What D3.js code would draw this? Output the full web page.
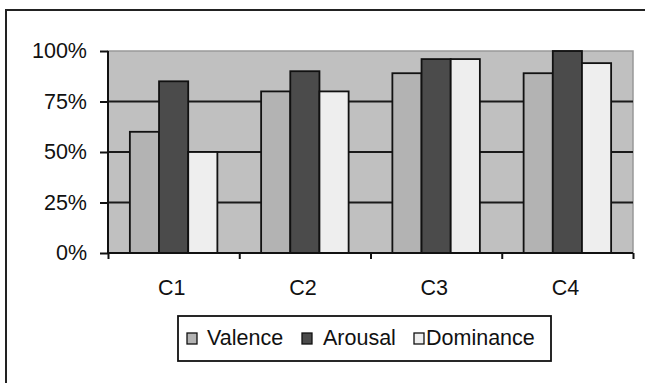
<!DOCTYPE html>
<html><head><meta charset="utf-8">
<script src="https://cdn.jsdelivr.net/npm/d3@7"></script>
<style>
html,body{margin:0;padding:0;background:#fff;}
svg{display:block;}
text{font-family:"Liberation Sans",Arial,sans-serif;fill:#111;}
</style></head>
<body>
<script>
const categories = ["C1","C2","C3","C4"];
const seriesNames = ["Valence","Arousal","Dominance"];
const valence   = [0.60, 0.80, 0.89, 0.89];
const arousal   = [0.85, 0.90, 0.96, 1.00];
const dominance = [0.50, 0.80, 0.96, 0.94];
const yTicks = [0, 0.25, 0.5, 0.75, 1];
const colors = ["#b3b3b3", "#4b4b4b", "#eeeeee"];

const seriesValues = [valence, arousal, dominance];
const W = 645, H = 383;
const plot = {l:108, r:633, t:51, b:253};
const fs = 21.5;

const svg = d3.select("body").append("svg").attr("width", W).attr("height", H);

// outer chart border
svg.append("rect").attr("x",6).attr("y",10).attr("width",700).attr("height",500)
  .attr("fill","#fff").attr("stroke","#222").attr("stroke-width",2);

const x = d3.scaleBand().domain(categories).range([plot.l, plot.r]).padding(0);
const xs = d3.scaleBand().domain(seriesNames).range([0, x.bandwidth()]).paddingInner(0).paddingOuter(0.75);
const y = d3.scaleLinear().domain([0,1]).range([plot.b, plot.t]);

// plot area
svg.append("rect").attr("x",plot.l).attr("y",plot.t).attr("width",plot.r-plot.l).attr("height",plot.b-plot.t)
  .attr("fill","#c0c0c0").attr("stroke","#999").attr("stroke-width",1.5);

// gridlines
svg.append("g").selectAll("line").data(yTicks.filter(t=>t>0 && t<1)).join("line")
  .attr("x1",plot.l).attr("x2",plot.r).attr("y1",d=>y(d)).attr("y2",d=>y(d))
  .attr("stroke","#1a1a1a").attr("stroke-width",2);

// bars
const data = [];
categories.forEach((c,i)=>seriesNames.forEach((s,j)=>data.push({c,s,j,v:seriesValues[j][i]})));
svg.append("g").selectAll("rect").data(data).join("rect")
  .attr("x",d=>x(d.c)+xs(d.s)).attr("width",xs.bandwidth())
  .attr("y",d=>y(d.v)).attr("height",d=>y(0)-y(d.v))
  .attr("fill",d=>colors[d.j]).attr("stroke","#111").attr("stroke-width",1.8);

// y axis
const ya = svg.append("g").attr("transform",`translate(${plot.l},0)`)
  .call(d3.axisLeft(y).tickValues(yTicks).tickFormat(d3.format(".0%")).tickSize(8).tickPadding(13));
ya.select(".domain").attr("stroke","#111").attr("stroke-width",2).attr("d",`M0,${plot.t}V${plot.b}`);
ya.selectAll(".tick line").attr("stroke","#111").attr("stroke-width",2);
ya.selectAll(".tick text").attr("font-size",fs).attr("font-family","Liberation Sans, Arial, sans-serif").attr("fill","#111");

// x axis: line + boundary ticks
const xb = d3.scaleLinear().domain([0,categories.length]).range([plot.l,plot.r]);
const xa = svg.append("g").attr("transform",`translate(0,${plot.b})`)
  .call(d3.axisBottom(xb).ticks(categories.length).tickFormat("").tickSize(6));
xa.select(".domain").attr("stroke","#111").attr("stroke-width",2).attr("d",`M${plot.l},0H${plot.r}`);
xa.selectAll(".tick line").attr("stroke","#111").attr("stroke-width",2);

// category labels
svg.append("g").selectAll("text").data(categories).join("text")
  .attr("x",d=>x(d)+x.bandwidth()/2-2).attr("y",295)
  .attr("text-anchor","middle").attr("font-size",fs).text(d=>d);

// legend
const lg = svg.append("g");
lg.append("rect").attr("x",178).attr("y",316).attr("width",373).attr("height",45)
  .attr("fill","#fff").attr("stroke","#111").attr("stroke-width",1.8);
const legendX = [187, 302, 414];
const legendTextX = [207, 323, 426];
seriesNames.forEach((s,j)=>{
  lg.append("rect").attr("x",legendX[j]).attr("y",333).attr("width",10).attr("height",11)
    .attr("fill",colors[j]).attr("stroke","#111").attr("stroke-width",1.3);
  lg.append("text").attr("x",legendTextX[j]).attr("y",344.5).attr("font-size",fs).text(s);
});
</script>
</body></html>
